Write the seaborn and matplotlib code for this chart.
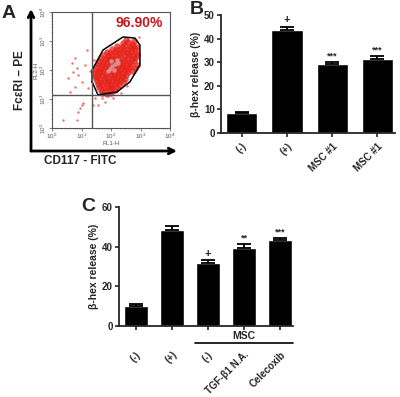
import numpy as np
import matplotlib
matplotlib.use('Agg')
import matplotlib.pyplot as plt
import seaborn as sns
from matplotlib.patches import FancyArrowPatch

sns.set_style('ticks')
plt.rcParams['font.family'] = ['Liberation Sans', 'DejaVu Sans']

# --- Panel A: flow cytometry (log10 values) ---
core_rows_x = [
    [2.42, 2.58, 2.71, 2.77, 2.50],
    [2.21, 2.36, 2.48, 2.63, 2.74, 2.86],
    [2.02, 2.17, 2.31, 2.44, 2.59, 2.68, 2.81],
    [1.86, 1.98, 2.12, 2.27, 2.39, 2.53, 2.69, 2.84],
    [1.76, 1.91, 2.04, 2.18, 2.32, 2.46, 2.61, 2.74, 2.88],
    [1.66, 1.79, 1.96, 2.09, 2.24, 2.41, 2.56, 2.71, 2.83],
    [1.61, 1.74, 1.89, 2.01, 2.16, 2.29, 2.44, 2.62, 2.79],
    [1.56, 1.71, 1.84, 1.99, 2.12, 2.26, 2.38, 2.54, 2.69, 2.88],
    [1.51, 1.66, 1.81, 1.94, 2.08, 2.21, 2.36, 2.49, 2.66, 2.81],
    [1.46, 1.61, 1.76, 1.89, 2.04, 2.19, 2.31, 2.46, 2.59, 2.74],
    [1.44, 1.59, 1.71, 1.86, 1.99, 2.14, 2.28, 2.41, 2.56],
    [1.46, 1.56, 1.69, 1.84, 2.01, 2.11, 2.24, 2.39, 2.51],
    [1.49, 1.64, 1.79, 1.94, 2.06, 2.21, 2.34, 2.46],
    [1.51, 1.66, 1.76, 1.91, 2.01, 2.16, 2.29, 2.41],
    [1.56, 1.69, 1.86, 1.99, 2.11, 2.27],
    [1.61, 1.76, 1.91, 2.04, 2.21],
    [1.66, 1.81, 1.96, 2.12],
    [1.71, 1.86, 2.01],
]
core_rows_y = [
    [2.93, 2.97, 2.88, 2.99, 3.02],
    [2.84, 2.80, 2.86, 2.79, 2.83, 2.78],
    [2.72, 2.69, 2.74, 2.70, 2.73, 2.68, 2.71],
    [2.61, 2.58, 2.63, 2.59, 2.62, 2.57, 2.61, 2.60],
    [2.51, 2.48, 2.53, 2.49, 2.52, 2.47, 2.51, 2.49, 2.52],
    [2.41, 2.38, 2.43, 2.39, 2.42, 2.37, 2.41, 2.39, 2.42],
    [2.31, 2.28, 2.33, 2.29, 2.32, 2.27, 2.31, 2.29, 2.32],
    [2.21, 2.18, 2.23, 2.19, 2.22, 2.17, 2.21, 2.19, 2.22, 2.18],
    [2.11, 2.08, 2.13, 2.09, 2.12, 2.07, 2.11, 2.09, 2.12, 2.08],
    [2.01, 1.98, 2.03, 1.99, 2.02, 1.97, 2.01, 1.99, 2.02, 1.98],
    [1.91, 1.88, 1.93, 1.89, 1.92, 1.87, 1.91, 1.89, 1.92],
    [1.81, 1.78, 1.83, 1.79, 1.82, 1.77, 1.81, 1.79, 1.82],
    [1.71, 1.68, 1.73, 1.69, 1.72, 1.67, 1.71, 1.68],
    [1.61, 1.58, 1.63, 1.59, 1.62, 1.57, 1.61, 1.58],
    [1.51, 1.48, 1.53, 1.49, 1.52, 1.48],
    [1.41, 1.38, 1.43, 1.39, 1.40],
    [1.31, 1.28, 1.33, 1.30],
    [1.21, 1.18, 1.22],
]
core_x = sum(core_rows_x, [])
core_y = sum(core_rows_y, [])

# paler, overlapping centre of the cloud
centre_x = [1.95, 2.05, 2.15, 2.0, 2.1, 2.2, 1.9, 2.25]
centre_y = [2.05, 2.15, 2.2, 2.3, 2.0, 2.35, 1.95, 2.25]

sparse_x = [1.18, 0.78, 0.67, 0.84, 0.72, 0.89, 0.55, 1.00, 0.78, 0.61, 1.12, 1.00,
            0.95, 0.89, 1.06, 0.84, 0.38, 1.23, 1.46, 1.68, 1.80, 1.57, 1.91, 1.40, 2.08,
            1.30, 2.55, 2.95, 1.42, 2.35]
sparse_y = [2.69, 2.40, 2.23, 2.06, 1.94, 1.83, 1.71, 1.60, 1.42, 1.25, 2.17, 0.79,
            0.68, 0.56, 0.85, 0.28, 0.28, 1.37, 1.02, 1.02, 0.91, 0.79, 1.14, 0.79, 1.02,
            1.95, 1.45, 3.15, 2.35, 1.20]

gate_x = [1.36, 1.36, 1.73, 2.41, 2.81, 2.98, 2.98, 2.64, 2.20, 1.56, 1.36]
gate_y = [1.59, 2.00, 2.69, 3.14, 3.10, 2.86, 2.17, 1.59, 1.24, 1.14, 1.59]
quad_x, quad_y = 1.36, 1.14
gate_pct = '96.90%'

# --- Panel B ---
b_keys = ['neg', 'pos', 'msc_a', 'msc_b']
b_labels = ['(-)', '(+)', 'MSC #1', 'MSC #1']
b_mean = [8.5, 43.5, 29.2, 31.5]
b_err = [0.3, 1.5, 0.8, 1.0]
b_marks = ['', '+', '***', '***']

# --- Panel C ---
c_keys = ['neg', 'pos', 'msc_neg', 'tgf', 'celecoxib']
c_labels = ['(-)', '(+)', '(-)', 'TGF-β1 N.A.', 'Celecoxib']
c_mean = [10.0, 48.5, 32.0, 39.5, 43.5]
c_err = [1.2, 2.0, 1.3, 1.8, 0.7]
c_marks = ['', '', '+', '**', '***']

fig = plt.figure(figsize=(4.0, 3.97), dpi=100)
W, H = 400, 397


def px_axes(x0, y0, x1, y1):
    return fig.add_axes([x0 / W, 1 - y1 / H, (x1 - x0) / W, (y1 - y0) / H])


# Panel A
axA = px_axes(52, 12, 170, 128)
axA.scatter(10 ** np.array(sparse_x), 10 ** np.array(sparse_y), s=3, color='#e8332a',
            alpha=0.7, linewidths=0)
axA.scatter(10 ** np.array(core_x), 10 ** np.array(core_y), s=22, color='#e5231b',
            alpha=0.75, linewidths=0)
axA.scatter(10 ** np.array(centre_x), 10 ** np.array(centre_y), s=10, color='#d9a3a3',
            alpha=0.8, linewidths=0)
axA.plot(10 ** np.array(gate_x), 10 ** np.array(gate_y), color='black', lw=1.1)
axA.axvline(10 ** quad_x, color='#555555', lw=1)
axA.axhline(10 ** quad_y, color='#555555', lw=1)
axA.set_xscale('log')
axA.set_yscale('log')
axA.set_xlim(1, 1e4)
axA.set_ylim(1, 1e4)
axA.tick_params(labelsize=4.5, labelcolor='#555555', length=2, width=0.5, pad=1,
                color='#555555')
axA.tick_params(which='minor', length=1, width=0.4, color='#777777')
for lab in axA.get_yticklabels():
    lab.set_rotation(90)
    lab.set_va('center')
axA.set_xlabel('FL1-H', fontsize=4.5, color='#555555', labelpad=0)
axA.set_ylabel('FL2-H', fontsize=4.5, color='#555555', labelpad=0)
for sp in axA.spines.values():
    sp.set_color('#555555')
    sp.set_linewidth(0.8)
axA.text(0.94, 0.905, gate_pct, transform=axA.transAxes, ha='right', va='center',
         color='#c8161d', fontsize=10, fontweight='bold')

corner = (31 / W, 1 - 151 / H)
fig.add_artist(FancyArrowPatch(corner, (31 / W, 1 - 9 / H), transform=fig.transFigure,
                               arrowstyle='->', mutation_scale=10, lw=2, color='black',
                               shrinkA=0, shrinkB=0))
fig.add_artist(FancyArrowPatch(corner, (177 / W, 1 - 151 / H), transform=fig.transFigure,
                               arrowstyle='->', mutation_scale=10, lw=2, color='black',
                               shrinkA=0, shrinkB=0))
fig.text(20 / W, 1 - 80 / H, 'FcεRI – PE', rotation=90, ha='center', va='center',
         fontsize=8.5, fontweight='bold')
fig.text(80 / W, 1 - 161 / H, 'CD117 - FITC', ha='center', va='center',
         fontsize=8.5, fontweight='bold')


def bar_panel(ax, keys, labels, mean, err, marks, ymax, yticks, pad):
    sns.barplot(x=keys, y=mean, color='black', saturation=1, width=0.69,
                errorbar=None, ax=ax)
    ax.errorbar(range(len(keys)), mean, yerr=[np.zeros(len(err)), err], fmt='none',
                ecolor='black', elinewidth=1.3, capsize=5, capthick=1.3)
    for i, m in enumerate(marks):
        if m:
            ax.text(i, mean[i] + err[i] + 0.6 * ymax / 50, m, ha='center', va='bottom',
                    fontsize=8 if m == '+' else 6.5, fontweight='bold')
    ax.set_ylim(0, ymax)
    ax.set_yticks(yticks)
    ax.set_xticks(range(len(keys)))
    ax.set_xticklabels(labels, rotation=45, ha='right', rotation_mode='anchor',
                       fontsize=7, fontweight='bold')
    for lab in ax.get_yticklabels():
        lab.set_fontweight('bold')
    ax.tick_params(axis='y', labelsize=7, length=3, width=1.2, pad=1.5)
    ax.tick_params(axis='x', length=3, width=1.2, pad=pad)
    sns.despine(ax=ax)
    for sp in ['left', 'bottom']:
        ax.spines[sp].set_linewidth(1.3)
    ax.set_ylabel('β-hex release (%)', fontsize=7.5, fontweight='bold', labelpad=2)
    ax.set_xlabel('')


# Panel B
axB = px_axes(221, 15, 395, 133)
bar_panel(axB, b_keys, b_labels, b_mean, b_err, b_marks, 50, [0, 10, 20, 30, 40, 50], 3)
axB.set_xlim(-0.46, 3.39)

# Panel C
axC = px_axes(119, 207, 293, 326)
bar_panel(axC, c_keys, c_labels, c_mean, c_err, c_marks, 60, [0, 20, 40, 60], 14)
axC.set_xlim(-0.47, 4.36)
tr = axC.get_xaxis_transform()
axC.plot([1.64, 4.36], [-0.143, -0.143], color='black', lw=1.2, transform=tr,
         clip_on=False)
axC.text(3.0, -0.084, 'MSC', transform=tr, ha='center', va='center', fontsize=7.5,
         fontweight='bold')

fig.text(2 / W, 1 - 13 / H, 'A', fontsize=14, fontweight='bold', va='center')
fig.text(190 / W, 1 - 9 / H, 'B', fontsize=14, fontweight='bold', va='center')
fig.text(81 / W, 1 - 206 / H, 'C', fontsize=14, fontweight='bold', va='center')

fig.savefig('out.png', dpi=100)
